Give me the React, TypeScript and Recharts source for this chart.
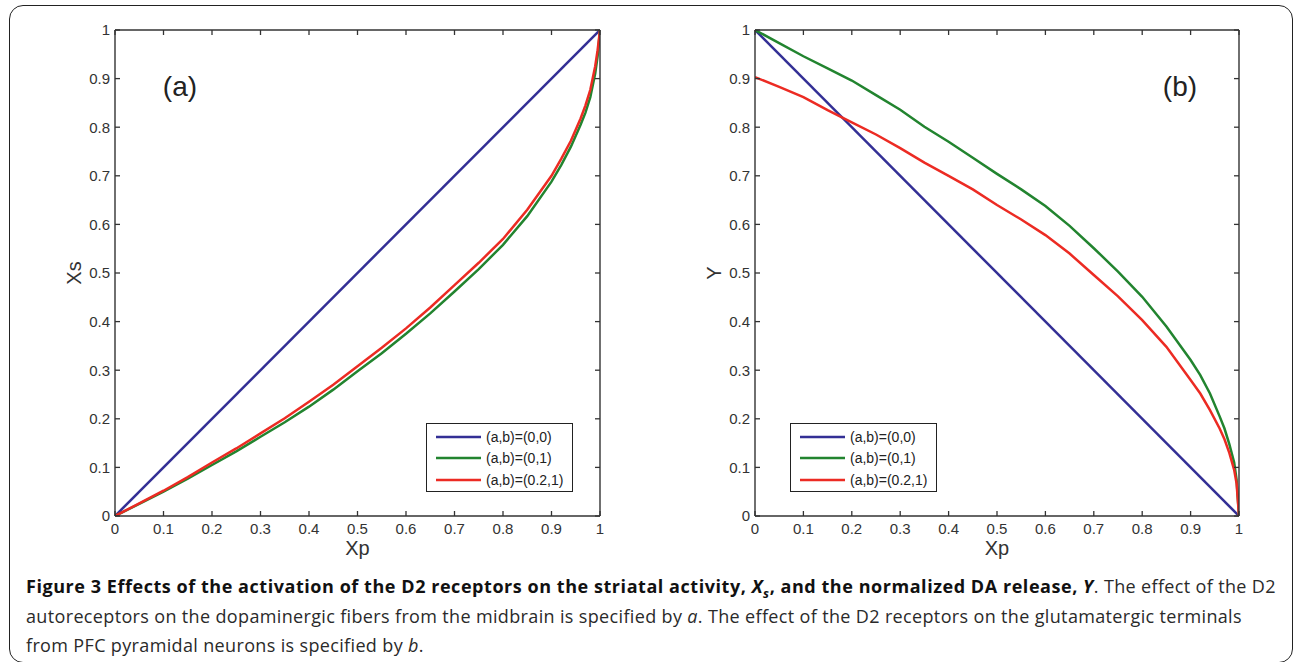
import React from 'react';
import { LineChart, Line, XAxis, YAxis, Label, Legend, ReferenceDot } from 'recharts';

// ---------- data ----------
const tickValues = [0, 0.1, 0.2, 0.3, 0.4, 0.5, 0.6, 0.7, 0.8, 0.9, 1];

const seriesNames = ['(a,b)=(0,0)', '(a,b)=(0,1)', '(a,b)=(0.2,1)'];
const seriesColors = ['#332f95', '#22842f', '#ec2b23'];

const xpGrid = [0, 0.05, 0.1, 0.15, 0.2, 0.25, 0.3, 0.35, 0.4, 0.45, 0.5, 0.55, 0.6, 0.65, 0.7, 0.75, 0.8, 0.85, 0.9, 0.92, 0.94, 0.96, 0.97, 0.98, 0.99, 0.995, 1];

// panel (a): Xs vs Xp
const xsBlueX = [0, 1];
const xsBlue = [0, 1];
const xsGreen = [0, 0.025, 0.05, 0.077, 0.105, 0.133, 0.163, 0.193, 0.225, 0.26, 0.298, 0.335, 0.375, 0.417, 0.462, 0.508, 0.558, 0.617, 0.688, 0.722, 0.76, 0.805, 0.83, 0.862, 0.91, 0.945, 1];
const xsRed = [0, 0.026, 0.052, 0.08, 0.11, 0.139, 0.17, 0.201, 0.235, 0.27, 0.308, 0.346, 0.386, 0.429, 0.475, 0.521, 0.57, 0.63, 0.7, 0.735, 0.772, 0.818, 0.845, 0.877, 0.925, 0.958, 1];

// panel (b): Y vs Xp
const yBlueX = [0, 1];
const yBlue = [1, 0];
const yGreen = [1, 0.973, 0.946, 0.921, 0.896, 0.866, 0.836, 0.801, 0.77, 0.737, 0.704, 0.672, 0.638, 0.597, 0.551, 0.503, 0.451, 0.39, 0.321, 0.29, 0.252, 0.205, 0.18, 0.148, 0.11, 0.075, 0];
const yRed = [0.903, 0.883, 0.862, 0.835, 0.81, 0.785, 0.757, 0.727, 0.7, 0.672, 0.64, 0.61, 0.578, 0.54, 0.496, 0.452, 0.403, 0.348, 0.28, 0.252, 0.218, 0.18, 0.158, 0.13, 0.095, 0.067, 0];

const toPoints = (xs: number[], ys: number[]) => xs.map((x, i) => ({ x, y: ys[i] }));

const AXIS_FONT = '"Liberation Sans", Arial, Helvetica, sans-serif';
const AXIS_COLOR = '#333';
const TICK_LEN = 5;
const LABEL_GAP = 5;

// inward MATLAB-style ticks, drawn at the tick positions Recharts supplies
const BottomTick = (props: any) => {
  const { x, y, payload } = props;
  const axisY = y - LABEL_GAP;
  return (
    <g>
      <line x1={x} x2={x} y1={axisY} y2={axisY - TICK_LEN} stroke={AXIS_COLOR} strokeWidth={1.3} />
      <text x={x} y={y} dy="0.85em" textAnchor="middle" fill={AXIS_COLOR} fontSize={15} fontFamily={AXIS_FONT}>
        {String(payload.value)}
      </text>
    </g>
  );
};
const LeftTick = (props: any) => {
  const { x, y, payload } = props;
  const axisX = x + LABEL_GAP;
  return (
    <g>
      <line x1={axisX} x2={axisX + TICK_LEN} y1={y} y2={y} stroke={AXIS_COLOR} strokeWidth={1.3} />
      <text x={x} y={y} dy="0.36em" textAnchor="end" fill={AXIS_COLOR} fontSize={15} fontFamily={AXIS_FONT}>
        {String(payload.value)}
      </text>
    </g>
  );
};
const TopTick = (props: any) => {
  const { x, y } = props;
  return <line x1={x} x2={x} y1={y} y2={y + TICK_LEN} stroke={AXIS_COLOR} strokeWidth={1.3} />;
};
const RightTick = (props: any) => {
  const { x, y } = props;
  return <line x1={x} x2={x - TICK_LEN} y1={y} y2={y} stroke={AXIS_COLOR} strokeWidth={1.3} />;
};

function LegendBox() {
  return (
    <div
      style={{
        width: 147,
        height: 69,
        boxSizing: 'border-box',
        border: '1.3px solid #222',
        background: '#fff',
        paddingTop: 2,
        fontFamily: AXIS_FONT,
        fontSize: 14,
        color: '#222',
      }}
    >
      {seriesNames.map((n, i) => (
        <div key={n} style={{ display: 'flex', alignItems: 'center', height: 21.5 }}>
          <svg width={59} height={10} style={{ flex: 'none' }}>
            <line x1={9} x2={54} y1={5} y2={5} stroke={seriesColors[i]} strokeWidth={2.5} />
          </svg>
          <span style={{ whiteSpace: 'nowrap' }}>{n}</span>
        </div>
      ))}
    </div>
  );
}

type PanelProps = {
  yLabel: string;
  yLabelDx: number;
  tag: string;
  tagX: number;
  tagY: number;
  blue: { x: number; y: number }[];
  green: { x: number; y: number }[];
  red: { x: number; y: number }[];
  rightMargin: number;
  legendLeft: number;
};

function Panel(p: PanelProps) {
  return (
    <LineChart width={620} height={560} margin={{ top: 29, right: p.rightMargin, bottom: 14, left: 5 }}>
      <XAxis
        xAxisId="b"
        type="number"
        dataKey="x"
        domain={[0, 1]}
        ticks={tickValues}
        orientation="bottom"
        height={30}
        tickSize={0}
        tickMargin={LABEL_GAP}
        tickLine={false}
        stroke={AXIS_COLOR}
        strokeWidth={1.4}
        tick={<BottomTick />}
        interval={0}
        allowDataOverflow
      >
        <Label value="Xp" position="center" dy={17} style={{ fontSize: 20, fill: AXIS_COLOR, fontFamily: AXIS_FONT }} />
      </XAxis>
      <XAxis
        xAxisId="t"
        type="number"
        dataKey="x"
        domain={[0, 1]}
        ticks={tickValues}
        orientation="top"
        height={1}
        tickSize={0}
        tickMargin={0}
        tickLine={false}
        stroke={AXIS_COLOR}
        strokeWidth={1.4}
        tick={<TopTick />}
        interval={0}
        allowDataOverflow
      />
      <YAxis
        yAxisId="l"
        type="number"
        domain={[0, 1]}
        ticks={tickValues}
        orientation="left"
        width={110}
        tickSize={0}
        tickMargin={LABEL_GAP}
        tickLine={false}
        stroke={AXIS_COLOR}
        strokeWidth={1.4}
        tick={<LeftTick />}
        interval={0}
        allowDataOverflow
      >
        <Label value={p.yLabel} angle={-90} position="center" dx={p.yLabelDx} style={{ fontSize: 20, fill: AXIS_COLOR, fontFamily: AXIS_FONT }} />
      </YAxis>
      <YAxis
        yAxisId="r"
        type="number"
        domain={[0, 1]}
        ticks={tickValues}
        orientation="right"
        width={1}
        tickSize={0}
        tickMargin={0}
        tickLine={false}
        stroke={AXIS_COLOR}
        strokeWidth={1.4}
        tick={<RightTick />}
        interval={0}
        allowDataOverflow
      />
      <Line xAxisId="b" yAxisId="l" data={p.blue} dataKey="y" name={seriesNames[0]} stroke={seriesColors[0]} strokeWidth={2.5} dot={false} type="linear" isAnimationActive={false} />
      <Line xAxisId="b" yAxisId="l" data={p.green} dataKey="y" name={seriesNames[1]} stroke={seriesColors[1]} strokeWidth={2.5} dot={false} type="linear" isAnimationActive={false} />
      <Line xAxisId="b" yAxisId="l" data={p.red} dataKey="y" name={seriesNames[2]} stroke={seriesColors[2]} strokeWidth={2.5} dot={false} type="linear" isAnimationActive={false} />
      <ReferenceDot
        xAxisId="b"
        yAxisId="l"
        x={p.tagX}
        y={p.tagY}
        r={1}
        fill="none"
        stroke="none"
        ifOverflow="visible"
      >
        <Label value={p.tag} position="center" style={{ fontSize: 28, fill: '#222', fontFamily: AXIS_FONT }} />
      </ReferenceDot>
      <Legend
        layout="vertical"
        align="center"
        verticalAlign="middle"
        wrapperStyle={{ left: p.legendLeft, top: 423, width: 147, height: 69 }}
        content={() => <LegendBox />}
      />
    </LineChart>
  );
}

const CAPTION_FONT = '"Open Sans", "Noto Sans", sans-serif';

export default function App() {
  return (
    <div style={{ position: 'absolute', left: 0, top: 0, width: 1293, height: 662, background: '#fff', overflow: 'hidden' }}>
      <div
        style={{
          position: 'absolute',
          left: 9,
          top: 5,
          width: 1284,
          height: 658,
          boxSizing: 'border-box',
          border: '1.6px solid #222',
          borderRadius: 14,
        }}
      />
      <div style={{ position: 'absolute', left: 0, top: 0 }}>
        <Panel
          yLabel="Xs"
          yLabelDx={14}
          tag="(a)"
          tagX={0.134}
          tagY={0.885}
          blue={toPoints(xsBlueX, xsBlue)}
          green={toPoints(xpGrid, xsGreen)}
          red={toPoints(xpGrid, xsRed)}
          rightMargin={19}
          legendLeft={426}
        />
      </div>
      <div style={{ position: 'absolute', left: 640, top: 0 }}>
        <Panel
          yLabel="Y"
          yLabelDx={14}
          tag="(b)"
          tagX={0.878}
          tagY={0.885}
          blue={toPoints(yBlueX, yBlue)}
          green={toPoints(xpGrid, yGreen)}
          red={toPoints(xpGrid, yRed)}
          rightMargin={20}
          legendLeft={150}
        />
      </div>
      <div
        style={{
          position: 'absolute',
          left: 26,
          top: 572,
          fontFamily: CAPTION_FONT,
          fontSize: 18,
          lineHeight: '29.5px',
          color: '#2a2a2a',
          whiteSpace: 'nowrap',
          letterSpacing: 0.35,
        }}
      >
        <div>
          <b style={{ color: '#111', letterSpacing: 0.55 }}>
            Figure 3 Effects of the activation of the D2 receptors on the striatal activity, <i>X<sub style={{ fontSize: '0.7em', lineHeight: 0 }}>s</sub></i>, and the normalized DA release, <i>Y</i>
          </b>
          . The effect of the D2
        </div>
        <div>
          autoreceptors on the dopaminergic fibers from the midbrain is specified by <i>a</i>. The effect of the D2 receptors on the glutamatergic terminals
        </div>
        <div>
          from PFC pyramidal neurons is specified by <i>b</i>.
        </div>
      </div>
    </div>
  );
}
